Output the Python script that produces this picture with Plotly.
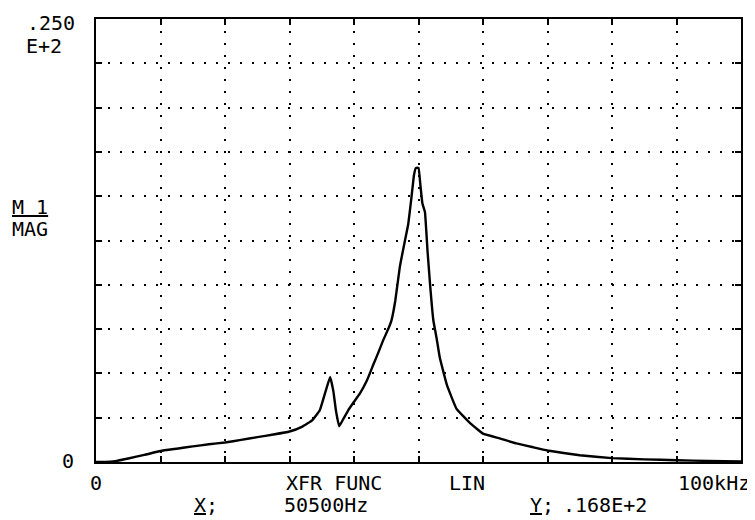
import plotly.graph_objects as go

# Frequency (kHz) and magnitude (axis top .250E+2 = 25)
freq_khz = [0, 1.5, 3, 5, 7.5, 10, 12.5, 15, 17.5, 20, 22.5, 25, 27.5, 30, 32, 33.5,
            34.7, 35.5, 36.3, 36.8, 37.2, 37.7, 38.3, 39.1, 40.0, 40.9, 42.0, 43.0,
            43.8, 44.5, 45.3, 45.8, 46.4, 47.1, 47.9, 48.4, 48.9, 49.3, 49.6, 50.0,
            50.3, 50.6, 51.0, 51.4, 51.8, 52.3, 52.8, 53.3, 54.4, 55.9, 58.0, 60.0,
            62.6, 65.2, 67.8, 70, 75, 80, 85, 90, 95, 100]
magnitude = [0.0, 0.0, 0.05, 0.2, 0.4, 0.62, 0.75, 0.88, 1.0, 1.1, 1.25, 1.4, 1.55, 1.72, 2.0, 2.35,
             2.92, 3.87, 4.8, 4.0, 2.9, 2.02, 2.4, 2.92, 3.4, 3.86, 4.6, 5.5,
             6.2, 6.85, 7.5, 7.98, 9.1, 11.0, 12.5, 13.4, 14.9, 16.2, 16.6, 16.6,
             15.6, 14.6, 14.1, 11.9, 10.0, 8.0, 7.0, 5.9, 4.35, 3.0, 2.2, 1.6,
             1.33, 1.05, 0.83, 0.65, 0.38, 0.22, 0.15, 0.1, 0.06, 0.03]

x_range = [0, 100]
y_range = [0, 25]
x_dtick = 10
y_dtick = 2.5

# target page geometry (pixels); the page body has an 8px default margin
W_FULL, H_FULL = 755, 520
OFF = 8
L, R, T, B = 96, 741, 17, 462

fig = go.Figure()
fig.add_trace(go.Scatter(x=freq_khz, y=magnitude, mode="lines",
                         line=dict(color="black", width=2.4, shape="spline", smoothing=0.3),
                         hoverinfo="skip", showlegend=False))

axis_common = dict(showline=True, linecolor="black", linewidth=2, mirror="allticks",
                   ticks="inside", ticklen=6, tickwidth=1.5, tickcolor="black",
                   showticklabels=False, showgrid=True, gridcolor="black",
                   griddash="2px,10px", gridwidth=1.7, zeroline=False, fixedrange=True)

fig.update_xaxes(range=x_range, dtick=x_dtick, tick0=0, **axis_common)
fig.update_yaxes(range=y_range, dtick=y_dtick, tick0=0, **axis_common)

FONT = dict(family="DejaVu Sans Mono", size=20, color="black")


def px_to_paper(px, py):
    return (px - L) / (R - L), (B - py) / (B - T)


def label(text, px, py, xanchor="center"):
    xp, yp = px_to_paper(px, py)
    fig.add_annotation(text=text, x=xp, y=yp, xref="paper", yref="paper",
                       xanchor=xanchor, yanchor="middle", showarrow=False, font=FONT)


label(".250", 77, 21, "right")
label("E+2", 64, 44, "right")
label("<u>M 1</u>", 30, 206)
label("MAG", 30, 228)
label("0", 76, 461, "right")
label("0", 96, 483)
label("XFR FUNC", 334, 483)
label("LIN", 467, 483)
label("100kHz", 752, 483, "right")
label("<u>X</u>;", 206, 505)
label("50500Hz", 326, 505)
label("<u>Y</u>;", 542, 505)
label(".168E+2", 605, 505)

fig.update_layout(width=W_FULL - OFF, height=H_FULL - OFF,
                  margin=dict(l=L - OFF, r=W_FULL - R, t=T - OFF, b=H_FULL - B),
                  paper_bgcolor="white", plot_bgcolor="white", showlegend=False)

fig.write_html("out.html")
